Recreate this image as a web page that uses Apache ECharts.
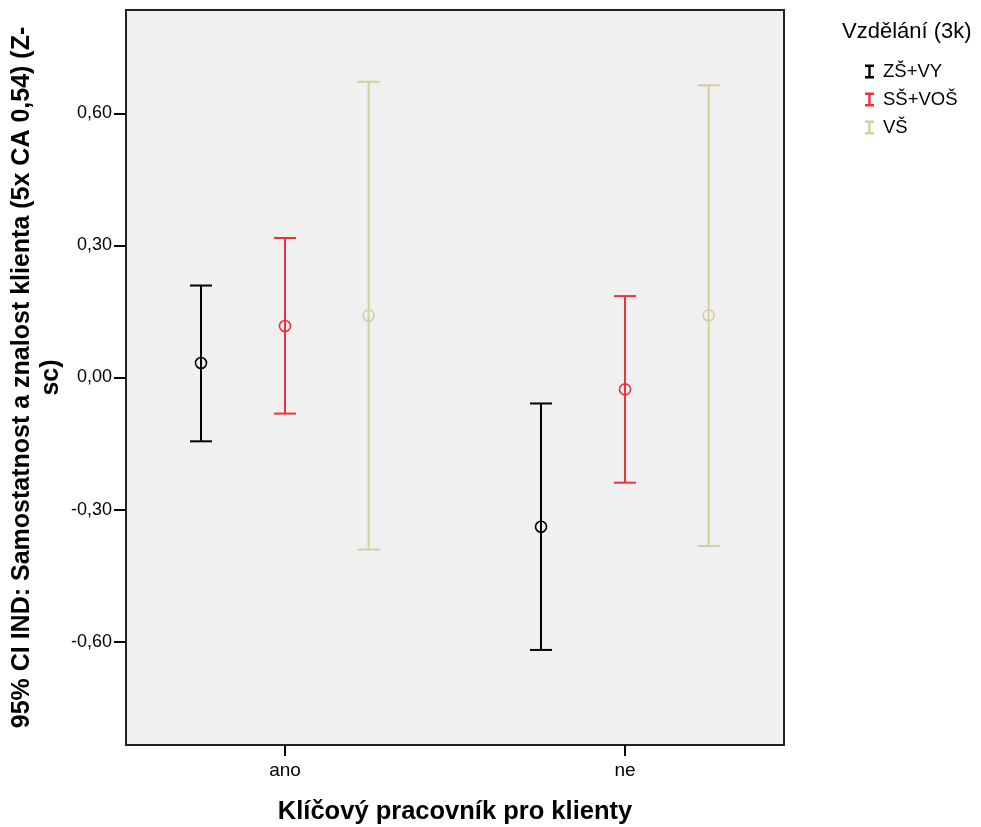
<!DOCTYPE html>
<html>
<head>
<meta charset="utf-8">
<script src="https://cdn.jsdelivr.net/npm/echarts@6/dist/echarts.min.js"></script>
<style>
  html, body { margin: 0; padding: 0; background: #ffffff; }
  #chart { width: 981px; height: 827px; }
</style>
</head>
<body>
<div id="chart"></div>
<script>
// Categories on the x axis and the education groups
const categories = ['ano', 'ne'];
const groups = ['ZŠ+VY', 'SŠ+VOŠ', 'VŠ'];

// Means and 95% confidence limits per group, one value per category
const meanZS  = [0.033, -0.339];
const lowerZS = [-0.145, -0.619];
const upperZS = [0.209, -0.059];

const meanSS  = [0.117, -0.027];
const lowerSS = [-0.082, -0.239];
const upperSS = [0.317, 0.185];

const meanVS  = [0.141, 0.141];
const lowerVS = [-0.391, -0.383];
const upperVS = [0.672, 0.664];

// Y axis tick values
const yTicks = [-0.6, -0.3, 0, 0.3, 0.6];

const colors = ['#000000', '#EF303A', '#D4CF9E'];
const groupOffset = [-0.247, 0, 0.246];   // position of each group inside a category
const font = "Arial, 'Liberation Sans', sans-serif";

function buildData(gi, mean, lower, upper) {
  return categories.map((c, i) => [i + groupOffset[gi], lower[i], upper[i], mean[i]]);
}

function renderErrorBar(params, api) {
  const x = api.value(0);
  const lo = api.coord([x, api.value(1)]);
  const hi = api.coord([x, api.value(2)]);
  const mid = api.coord([x, api.value(3)]);
  const color = api.visual('color');
  const cap = 11;
  const st = { stroke: color, lineWidth: 2, fill: null };
  return {
    type: 'group',
    children: [
      { type: 'line', shape: { x1: lo[0], y1: lo[1], x2: hi[0], y2: hi[1] }, style: st },
      { type: 'line', shape: { x1: hi[0] - cap, y1: hi[1], x2: hi[0] + cap, y2: hi[1] }, style: st },
      { type: 'line', shape: { x1: lo[0] - cap, y1: lo[1], x2: lo[0] + cap, y2: lo[1] }, style: st },
      { type: 'circle', shape: { cx: mid[0], cy: mid[1], r: 5.5 }, style: { stroke: color, lineWidth: 1.6, fill: 'transparent' } }
    ]
  };
}

const seriesSpecs = [
  [meanZS, lowerZS, upperZS],
  [meanSS, lowerSS, upperSS],
  [meanVS, lowerVS, upperVS]
];

const chart = echarts.init(document.getElementById('chart'), null, { renderer: 'canvas' });

chart.setOption({
  animation: false,
  backgroundColor: '#ffffff',
  title: {
    text: 'Vzdělání (3k)',
    left: 842,
    top: 21,
    padding: 0,
    textStyle: { fontFamily: font, fontSize: 22, fontWeight: 'normal', color: '#000000' }
  },
  legend: {
    data: groups,
    orient: 'vertical',
    left: 865,
    top: 62,
    padding: 0,
    itemWidth: 9,
    itemHeight: 14,
    itemGap: 9,
    icon: 'path://M0,0H9V2.5H5.7V11.5H9V14H0V11.5H3.3V2.5H0Z',
    textStyle: { fontFamily: font, fontSize: 18.5, color: '#000000', padding: [0, 0, 0, 4] }
  },
  grid: {
    left: 126,
    right: 197,
    top: 10,
    bottom: 82,
    outerBoundsMode: 'none',
    containLabel: false,
    show: true,
    backgroundColor: '#F0F0F0',
    borderColor: '#222222',
    borderWidth: 2
  },
  xAxis: {
    type: 'value',
    min: -0.4676,
    max: 1.4676,
    name: 'Klíčový pracovník pro klienty',
    nameLocation: 'middle',
    nameGap: 54,
    nameMoveOverlap: false,
    nameTextStyle: { fontFamily: font, fontSize: 25.5, fontWeight: 'bold', color: '#000000' },
    axisLine: { show: false, onZero: false },
    splitLine: { show: false },
    axisTick: { show: true, customValues: [0, 1], length: 11, lineStyle: { color: '#000000', width: 2 } },
    axisLabel: {
      customValues: [0, 1],
      formatter: v => categories[Math.round(v)],
      fontFamily: font, fontSize: 19, color: '#000000', margin: 16
    }
  },
  yAxis: {
    type: 'value',
    min: -0.835,
    max: 0.835,
    name: '95% CI IND: Samostatnost a znalost klienta (5x CA 0,54) (Z-\nsc)',
    nameLocation: 'middle',
    nameGap: 60,
    nameRotate: 90,
    nameMoveOverlap: false,
    nameTextStyle: { fontFamily: font, fontSize: 25, fontWeight: 'bold', color: '#000000', lineHeight: 29, align: 'center' },
    axisLine: { show: false, onZero: false },
    splitLine: { show: false },
    axisTick: { show: true, customValues: yTicks, length: 12, lineStyle: { color: '#000000', width: 2 } },
    axisLabel: {
      customValues: yTicks,
      formatter: v => v.toFixed(2).replace('.', ','),
      fontFamily: font, fontSize: 18, color: '#000000', margin: 14
    }
  },
  series: seriesSpecs.map((s, gi) => ({
    name: groups[gi],
    type: 'custom',
    renderItem: renderErrorBar,
    itemStyle: { color: colors[gi] },
    encode: { x: 0, y: [1, 2, 3] },
    data: buildData(gi, s[0], s[1], s[2])
  }))
});
</script>
</body>
</html>
